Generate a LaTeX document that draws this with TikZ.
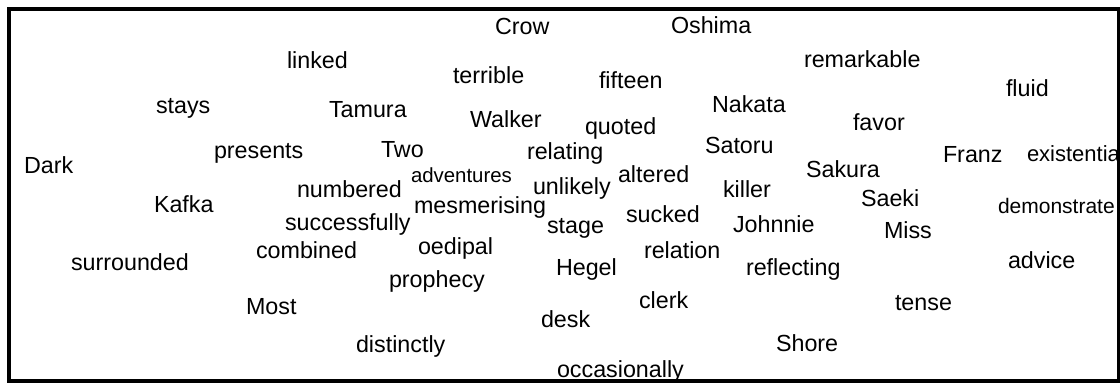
\documentclass[tikz,border=0pt]{standalone}
\usepackage{fontspec}
\setmainfont{Liberation Sans}
\begin{document}
\begin{tikzpicture}[x=1pt,y=-1pt,
  w/.style={anchor=base west,inner sep=0pt,outer sep=0pt,font=\fontsize{23.3}{23.3}\selectfont},
  ws/.style={w,font=\fontsize{20.4}{20.4}\selectfont},
  wm/.style={w,font=\fontsize{21}{21}\selectfont},
  wl/.style={w,font=\fontsize{22}{22}\selectfont},
  frame/.style={draw=black,line width=3.7pt}]
\useasboundingbox (0,0) rectangle (1120,383);
\node[w] (crow) at (495,34) {Crow};
\node[w] (oshima) at (671,33) {Oshima};
\node[w] (linked) at (287,68) {linked};
\node[w] (terrible) at (453,83) {terrible};
\node[w] (fifteen) at (599,88) {fifteen};
\node[w] (remarkable) at (804,67) {remarkable};
\node[w] (fluid) at (1006,96) {fluid};
\node[w] (stays) at (156,113) {stays};
\node[w] (tamura) at (329,117) {Tamura};
\node[w] (walker) at (470,127) {Walker};
\node[w] (quoted) at (585,134) {quoted};
\node[w] (nakata) at (712,112) {Nakata};
\node[w] (favor) at (853,130) {favor};
\node[w] (presents) at (214,158) {presents};
\node[w] (two) at (381,157) {Two};
\node[w] (relating) at (527,159) {relating};
\node[w] (satoru) at (705,153) {Satoru};
\node[w] (franz) at (943,162) {Franz};
\node[wl] (existentia) at (1027,161) {existentia};
\node[w] (dark) at (24,173) {Dark};
\node[w] (sakura) at (806,177) {Sakura};
\node[w] (numbered) at (297,197) {numbered};
\node[ws] (adventures) at (411,182) {adventures};
\node[w] (unlikely) at (533,194) {unlikely};
\node[w] (altered) at (618,182) {altered};
\node[w] (killer) at (723,197) {killer};
\node[w] (saeki) at (861,206) {Saeki};
\node[wm] (demonstrate) at (998,213) {demonstrate};
\node[w] (kafka) at (154,212) {Kafka};
\node[w] (mesmerising) at (414,213) {mesmerising};
\node[w] (successfully) at (285,230) {successfully};
\node[w] (stage) at (547,233) {stage};
\node[w] (sucked) at (626,222) {sucked};
\node[w] (johnnie) at (733,232) {Johnnie};
\node[w] (miss) at (884,238) {Miss};
\node[w] (combined) at (256,258) {combined};
\node[w] (oedipal) at (418,254) {oedipal};
\node[w] (relation) at (644,258) {relation};
\node[w] (surrounded) at (71,270) {surrounded};
\node[w] (hegel) at (556,275) {Hegel};
\node[w] (reflecting) at (746,275) {reflecting};
\node[w] (advice) at (1008,268) {advice};
\node[w] (prophecy) at (389,287) {prophecy};
\node[w] (most) at (246,314) {Most};
\node[w] (clerk) at (639,308) {clerk};
\node[w] (tense) at (895,310) {tense};
\node[w] (desk) at (541,327) {desk};
\node[w] (distinctly) at (356,352) {distinctly};
\node[w] (shore) at (776,351) {Shore};
\node[w] (occasionally) at (557,377) {occasionally};
\draw[frame] (9.3,9) rectangle (1118.5,381);
\end{tikzpicture}
\end{document}
